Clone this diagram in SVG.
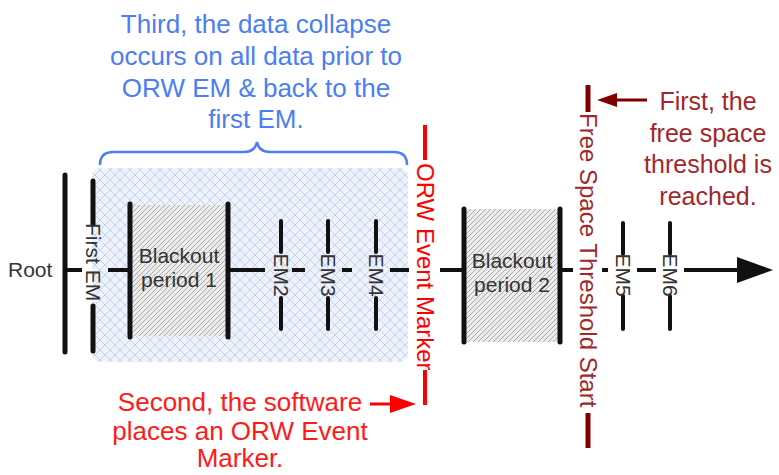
<svg xmlns="http://www.w3.org/2000/svg" width="779" height="475" viewBox="0 0 779 475">
  <defs>
    <!-- light blue diamond grid for the collapsed range -->
    <pattern id="crossHatch" patternUnits="userSpaceOnUse" width="10" height="10">
      <rect width="10" height="10" fill="#eef2fb"/>
      <path d="M0,0 L10,10 M10,0 L0,10" stroke="#b9c9ee" stroke-width="0.8" fill="none"/>
    </pattern>
    <!-- grey diagonal hatch for blackout periods -->
    <pattern id="diagHatch" patternUnits="userSpaceOnUse" width="5" height="5">
      <rect width="5" height="5" fill="#ececec"/>
      <path d="M-1,1 L1,-1 M0,5 L5,0 M4,6 L6,4" stroke="#a8a8a8" stroke-width="1" fill="none"/>
    </pattern>
    <style>
      text { font-family: "Liberation Sans", Arial, sans-serif; }
      .bar { stroke: #111; stroke-width: 5; stroke-linecap: round; fill: none; }
      .tick { stroke: #111; stroke-width: 4; stroke-linecap: round; fill: none; }
      .axis { stroke: #111; stroke-width: 4; fill: none; }
      .lbl { font-size: 21px; fill: #333; }
      .note-blue { font-size: 26px; fill: #4a7ef2; text-anchor: middle; }
      .note-red { font-size: 26px; fill: #ff1a1a; text-anchor: middle; }
      .note-dred { font-size: 25px; fill: #a0282d; text-anchor: middle; }
      .orw { stroke: #ff0000; stroke-width: 4; fill: none; }
      .fst { stroke: #800000; stroke-width: 5; fill: none; }
    </style>
  </defs>

  <!-- collapsed data range -->
  <rect x="92" y="168" width="316" height="194" rx="8" fill="url(#crossHatch)"/>

  <!-- timeline segments and arrows -->
  <g id="connectors">
    <line class="axis" x1="65" y1="270" x2="82" y2="270"/>
    <line class="axis" x1="108" y1="270" x2="130" y2="270"/>
    <line class="axis" x1="228" y1="270" x2="265" y2="270"/>
    <line class="axis" x1="292" y1="270" x2="305" y2="270"/>
    <line class="axis" x1="342" y1="270" x2="352" y2="270"/>
    <line class="axis" x1="390" y1="270" x2="409" y2="270"/>
    <line class="axis" x1="440" y1="270" x2="464" y2="270"/>
    <line class="axis" x1="560" y1="270" x2="573" y2="270"/>
    <line class="axis" x1="602" y1="270" x2="608" y2="270"/>
    <line class="axis" x1="637" y1="270" x2="656" y2="270"/>
    <line class="axis" x1="684" y1="270" x2="740" y2="270"/>
    <polygon points="737,257 773,270 737,283" fill="#111"/>
    <!-- pointer to the ORW event marker -->
    <line x1="370" y1="404" x2="392" y2="404" stroke="#ff0000" stroke-width="3"/>
    <polygon points="390,395 416,404 390,413" fill="#ff0000"/>
    <!-- pointer to the free space threshold -->
    <line x1="647" y1="100" x2="614" y2="100" stroke="#800000" stroke-width="3"/>
    <polygon points="617,93 597,100 617,107" fill="#800000"/>
  </g>

  <g id="root">
    <line class="bar" x1="65" y1="175" x2="65" y2="352"/>
    <text class="lbl" x="8" y="277">Root</text>
  </g>

  <g id="first-em">
    <line class="bar" x1="93" y1="181" x2="93" y2="224"/>
    <line class="bar" x1="93" y1="306" x2="93" y2="351"/>
    <text class="lbl" transform="translate(85.5,223) rotate(90)">First EM</text>
  </g>

  <g id="blackout-1">
    <rect x="130" y="205" width="98" height="131" fill="url(#diagHatch)"/>
    <line class="bar" x1="130" y1="204" x2="130" y2="337"/>
    <line class="bar" x1="228" y1="204" x2="228" y2="337"/>
    <text class="lbl" x="179" y="263" text-anchor="middle">Blackout</text>
    <text class="lbl" x="179" y="287" text-anchor="middle">period 1</text>
  </g>

  <g id="em2">
    <line class="tick" x1="281" y1="221" x2="281" y2="252"/>
    <line class="tick" x1="281" y1="298" x2="281" y2="329"/>
    <text class="lbl" text-anchor="middle" transform="translate(273.5,275) rotate(90)">EM2</text>
  </g>

  <g id="em3">
    <line class="tick" x1="328" y1="221" x2="328" y2="252"/>
    <line class="tick" x1="328" y1="298" x2="328" y2="329"/>
    <text class="lbl" text-anchor="middle" transform="translate(320.5,275) rotate(90)">EM3</text>
  </g>

  <g id="em4">
    <line class="tick" x1="376" y1="221" x2="376" y2="252"/>
    <line class="tick" x1="376" y1="298" x2="376" y2="329"/>
    <text class="lbl" text-anchor="middle" transform="translate(368.5,275) rotate(90)">EM4</text>
  </g>

  <g id="orw-event-marker">
    <line class="orw" x1="425" y1="125" x2="425" y2="160"/>
    <line class="orw" x1="425" y1="370" x2="425" y2="405"/>
    <text transform="translate(416.5,163) rotate(90)" font-size="24" fill="#ff0000">ORW Event Marker</text>
  </g>

  <g id="blackout-2">
    <rect x="464" y="209" width="96" height="133" fill="url(#diagHatch)"/>
    <line class="bar" x1="464" y1="209" x2="464" y2="342"/>
    <line class="bar" x1="560" y1="209" x2="560" y2="342"/>
    <text class="lbl" x="512" y="268" text-anchor="middle">Blackout</text>
    <text class="lbl" x="512" y="292" text-anchor="middle">period 2</text>
  </g>

  <g id="free-space-threshold">
    <line class="fst" x1="588" y1="85" x2="588" y2="112"/>
    <line class="fst" x1="588" y1="413" x2="588" y2="448"/>
    <text transform="translate(579.5,113) rotate(90)" font-size="24" fill="#a0282d">Free Space Threshold Start</text>
  </g>

  <g id="em5">
    <line class="tick" x1="623" y1="223" x2="623" y2="254"/>
    <line class="tick" x1="623" y1="296" x2="623" y2="329"/>
    <text class="lbl" text-anchor="middle" transform="translate(615.5,275) rotate(90)">EM5</text>
  </g>

  <g id="em6">
    <line class="tick" x1="670" y1="223" x2="670" y2="254"/>
    <line class="tick" x1="670" y1="296" x2="670" y2="329"/>
    <text class="lbl" text-anchor="middle" transform="translate(662.5,275) rotate(90)">EM6</text>
  </g>

  <g id="note-third">
    <text class="note-blue" x="256" y="33">Third, the data collapse</text>
    <text class="note-blue" x="256" y="65">occurs on all data prior to</text>
    <text class="note-blue" x="256" y="97">ORW EM &amp; back to the</text>
    <text class="note-blue" x="256" y="128">first EM.</text>
    <path d="M100,165 Q100,152 113,152 L244,152 Q255,152 257,142 Q259,152 270,152 L394,152 Q407,152 407,165" fill="none" stroke="#4a7ef2" stroke-width="2.5"/>
  </g>

  <g id="note-second">
    <text class="note-red" x="240" y="411">Second, the software</text>
    <text class="note-red" x="240" y="440">places an ORW Event</text>
    <text class="note-red" x="240" y="467">Marker.</text>
  </g>

  <g id="note-first">
    <text class="note-dred" x="708" y="110">First, the</text>
    <text class="note-dred" x="708" y="142">free space</text>
    <text class="note-dred" x="708" y="173">threshold is</text>
    <text class="note-dred" x="708" y="205">reached.</text>
  </g>
</svg>
